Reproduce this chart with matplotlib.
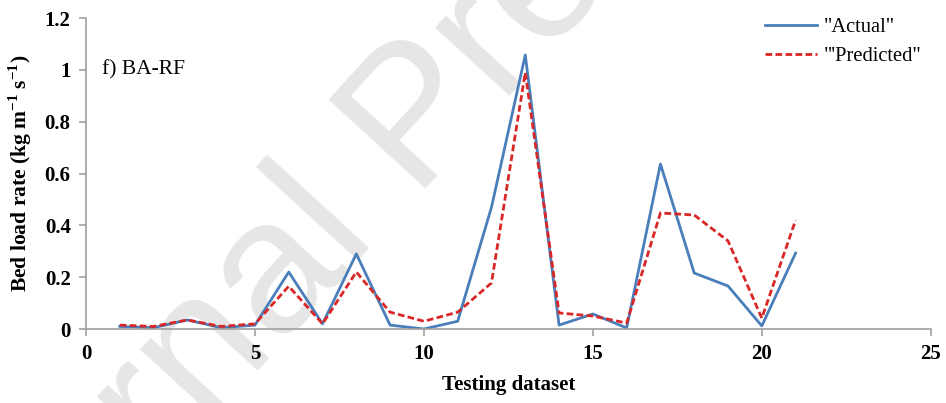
import numpy as np
import matplotlib
matplotlib.use("Agg")
import matplotlib.pyplot as plt

# Testing dataset: observed vs. BA-RF predicted bed load rate
sample = np.arange(1, 22)
actual = [0.010, 0.005, 0.035, 0.005, 0.015, 0.220, 0.020, 0.290, 0.015, 0.000, 0.030,
          0.470, 1.058, 0.015, 0.058, 0.004, 0.637, 0.216, 0.166, 0.012, 0.293]
predicted = [0.015, 0.010, 0.035, 0.010, 0.020, 0.165, 0.020, 0.220, 0.065, 0.030, 0.065,
             0.178, 0.990, 0.062, 0.050, 0.023, 0.448, 0.440, 0.340, 0.042, 0.420]
xticks = [0, 5, 10, 15, 20, 25]
yticks = [0, 0.2, 0.4, 0.6, 0.8, 1.0, 1.2]

plt.rcParams['font.family'] = ['Liberation Serif', 'DejaVu Serif']
plt.rcParams['mathtext.fontset'] = 'custom'
plt.rcParams['mathtext.rm'] = 'Liberation Serif:bold'
plt.rcParams['mathtext.bf'] = 'Liberation Serif:bold'

fig = plt.figure(figsize=(9.46, 4.03), dpi=100)
ax = fig.add_axes([0.0909, 0.1836, 0.893, 0.7714])
ax.set_zorder(2)
ax.set_facecolor('none')

# faint watermark behind the plot
fig.text(-0.0476, -0.742, "Journal Pre-proof", fontsize=138, color='#e6e6e6',
         rotation=47.5, rotation_mode='anchor', ha='left', va='baseline',
         family='Liberation Sans', zorder=0)

ax.plot(sample, actual, color='#4a7ebb', lw=2.0, label='"Actual"')
ax.plot(sample, predicted, color='#d92626', lw=2.0, ls=(0, (2.4, 1.2)), label='"\'Predicted"')

ax.set_xlim(0, 25)
ax.set_ylim(0, 1.2)
ax.set_xticks(xticks)
ax.set_yticks(yticks)
ax.set_yticklabels(['%g' % v for v in yticks])
for lab in ax.get_xticklabels() + ax.get_yticklabels():
    lab.set_fontweight('bold')
    lab.set_fontsize(15)

for side in ['top', 'right']:
    ax.spines[side].set_visible(False)
for side in ['left', 'bottom']:
    ax.spines[side].set_color('#a0a0a0')
    ax.spines[side].set_linewidth(1.2)
ax.tick_params(axis='both', direction='out', length=5, width=1.2, color='#a0a0a0', pad=6)

ax.set_xlabel('Testing dataset', fontsize=15, fontweight='bold', labelpad=8)
ax.set_ylabel(r'Bed load rate (kg m$^{-1}$ s$^{-1}$)', fontsize=15.5, fontweight='bold', labelpad=8)

ax.text(0.47, 1.0, 'f) BA-RF', fontsize=15.5, va='center', ha='left')

ax.legend(loc='upper left', frameon=False, fontsize=14.8, handlelength=2.55,
          handletextpad=0.3, borderpad=0, borderaxespad=0, labelspacing=0.45,
          bbox_to_anchor=(765 / 946, 1 - 18 / 403), bbox_transform=fig.transFigure)

fig.savefig('out.png', dpi=100)
